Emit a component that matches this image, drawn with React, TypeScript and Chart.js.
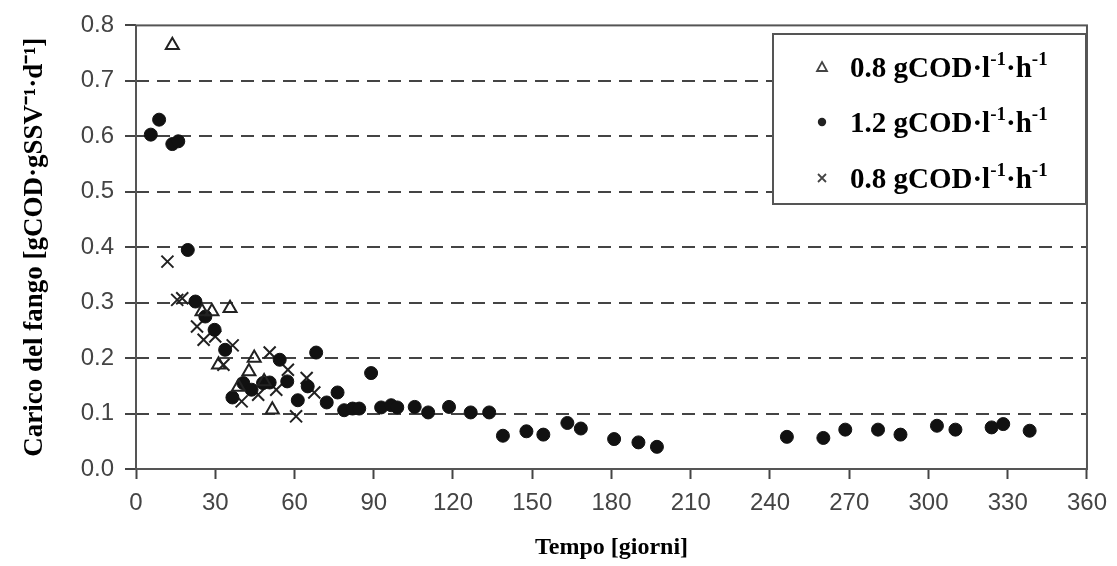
import React, { useEffect, useRef } from "react";
import { Chart, registerables } from "chart.js";

Chart.register(...registerables);

// ---- Data (days, sludge load) ----
const triDays = [13.75, 35.6, 25, 28.75, 31.25, 44.75, 42.75, 38.75, 48.5, 51.6];
const triValues = [0.764, 0.29, 0.284, 0.284, 0.188, 0.2, 0.176, 0.148, 0.158, 0.107];

const dotDays = [
  5.6, 8.75, 13.75, 16, 19.6, 22.5, 26.25, 29.75, 33.75, 36.5, 40.6, 43.75, 48.1, 50.6, 54.4,
  57.25, 61.25, 65, 68.2, 72.2, 76.3, 78.8, 82, 84.5, 89, 92.8, 96.6, 98.9, 105.5, 110.6, 118.5,
  126.7, 133.7, 138.9, 147.8, 154.2, 163.3, 168.4, 181, 190.2, 197.2, 246.4, 260.2, 268.5,
  280.9, 289.4, 303.2, 310.2, 323.9, 328.3, 338.3,
];
const dotValues = [
  0.603, 0.63, 0.586, 0.591, 0.395, 0.302, 0.275, 0.251, 0.215, 0.129, 0.155, 0.143, 0.155,
  0.156, 0.197, 0.158, 0.124, 0.149, 0.21, 0.12, 0.138, 0.106, 0.109, 0.109, 0.173, 0.111,
  0.115, 0.111, 0.112, 0.102, 0.112, 0.102, 0.102, 0.06, 0.068, 0.062, 0.083, 0.073, 0.054,
  0.048, 0.04, 0.058, 0.056, 0.071, 0.071, 0.062, 0.078, 0.071, 0.075, 0.081, 0.069,
];

const crossDays = [11.9, 15.6, 17.5, 23.1, 25.6, 30, 33.1, 36.6, 40, 46.25, 50.6, 53.1, 57.5, 60.6, 64.6, 67.5];
const crossValues = [0.374, 0.305, 0.308, 0.257, 0.233, 0.239, 0.188, 0.223, 0.122, 0.134, 0.21, 0.143, 0.179, 0.095, 0.164, 0.138];

const xTickValues = [0, 30, 60, 90, 120, 150, 180, 210, 240, 270, 300, 330, 360];
const yTickValues = [0, 0.1, 0.2, 0.3, 0.4, 0.5, 0.6, 0.7, 0.8];

const seriesNames = ["0.8 gCOD·l⁻¹·h⁻¹", "1.2 gCOD·l⁻¹·h⁻¹", "0.8 gCOD·l⁻¹·h⁻¹"];
const legendParts: [string, boolean][][] = [
  [["0.8 gCOD·l", false], ["-1", true], ["·h", false], ["-1", true]],
  [["1.2 gCOD·l", false], ["-1", true], ["·h", false], ["-1", true]],
  [["0.8 gCOD·l", false], ["-1", true], ["·h", false], ["-1", true]],
];
const yTitle = "Carico del fango [gCOD·gSSV⁻¹·d⁻¹]";
const xTitle = "Tempo [giorni]";

const toPoints = (xs: number[], ys: number[]) => xs.map((x, i) => ({ x, y: ys[i] }));

const SERIF = '"Liberation Serif", "Times New Roman", serif';
const SANS = '"Liberation Sans", Arial, sans-serif';

const framePlugin = {
  id: "frame",
  beforeDatasetsDraw(chart: any) {
    const { ctx, chartArea: a } = chart;
    ctx.save();
    ctx.strokeStyle = "#555";
    ctx.lineWidth = 2;
    ctx.strokeRect(a.left, a.top, a.right - a.left, a.bottom - a.top);
    ctx.restore();
  },
};

const legendPlugin = {
  id: "boxLegend",
  afterDraw(chart: any) {
    const { ctx } = chart;
    const bx = 773, by = 34, bw = 313, bh = 170;
    ctx.save();
    ctx.fillStyle = "#fff";
    ctx.fillRect(bx, by, bw, bh);
    ctx.strokeStyle = "#555";
    ctx.lineWidth = 2;
    ctx.strokeRect(bx, by, bw, bh);
    const rowY = [67, 122, 178];
    const mx = 822;
    legendParts.forEach((parts, i) => {
      const cy = rowY[i];
      ctx.lineWidth = 1.8;
      if (i === 0) {
        ctx.strokeStyle = "#444";
        ctx.beginPath();
        ctx.moveTo(mx, cy - 5);
        ctx.lineTo(mx + 5, cy + 4);
        ctx.lineTo(mx - 5, cy + 4);
        ctx.closePath();
        ctx.stroke();
      } else if (i === 1) {
        ctx.fillStyle = "#222";
        ctx.beginPath();
        ctx.arc(mx, cy, 4.2, 0, Math.PI * 2);
        ctx.fill();
      } else {
        ctx.strokeStyle = "#444";
        ctx.beginPath();
        ctx.moveTo(mx - 4, cy - 4);
        ctx.lineTo(mx + 4, cy + 4);
        ctx.moveTo(mx + 4, cy - 4);
        ctx.lineTo(mx - 4, cy + 4);
        ctx.stroke();
      }
      let tx = 850;
      ctx.fillStyle = "#000";
      ctx.textBaseline = "alphabetic";
      ctx.textAlign = "left";
      parts.forEach(([t, sup]) => {
        ctx.font = sup ? `bold 19px ${SERIF}` : `bold 29px ${SERIF}`;
        ctx.fillText(t, tx, sup ? cy - 2 : cy + 10);
        tx += ctx.measureText(t).width;
      });
    });
    ctx.restore();
  },
};

export default function App() {
  const ref = useRef<HTMLCanvasElement>(null);

  useEffect(() => {
    if (!ref.current) return;
    const chart = new Chart(ref.current, {
      type: "scatter",
      data: {
        datasets: [
          {
            label: seriesNames[0],
            data: toPoints(triDays, triValues),
            pointStyle: "triangle",
            pointRadius: 7.5,
            borderColor: "#222",
            backgroundColor: "rgba(255,255,255,0)",
            borderWidth: 2,
          },
          {
            label: seriesNames[1],
            data: toPoints(dotDays, dotValues),
            pointStyle: "circle",
            pointRadius: 6.5,
            borderColor: "#111",
            backgroundColor: "#111",
            borderWidth: 1,
          },
          {
            label: seriesNames[2],
            data: toPoints(crossDays, crossValues),
            pointStyle: "crossRot",
            pointRadius: 8.5,
            borderColor: "#222",
            backgroundColor: "#222",
            borderWidth: 2,
          },
        ],
      },
      options: {
        responsive: false,
        animation: false,
        devicePixelRatio: 1,
        layout: { padding: { left: 0, top: 25, right: 6, bottom: 0 } },
        plugins: {
          legend: { display: false },
          tooltip: { enabled: false },
        },
        scales: {
          x: {
            type: "linear",
            min: 0,
            max: 360,
            afterFit: (s: any) => {
              s.height = 97;
            },
            afterBuildTicks: (s: any) => {
              s.ticks = xTickValues.map((v) => ({ value: v }));
            },
            ticks: {
              font: { family: SANS, size: 24 },
              color: "#444",
              padding: 10,
              maxRotation: 0,
              autoSkip: false,
            },
            grid: {
              drawOnChartArea: false,
              drawTicks: true,
              tickLength: 10,
              tickColor: "#444",
              tickWidth: 2,
            },
            border: { display: false },
            title: {
              display: true,
              text: xTitle,
              font: { family: SERIF, size: 24, weight: "bold" },
              color: "#000",
              padding: { top: 4, bottom: 4 },
            },
          },
          y: {
            type: "linear",
            min: 0,
            max: 0.8,
            afterFit: (s: any) => {
              s.width = 136;
            },
            afterBuildTicks: (s: any) => {
              s.ticks = yTickValues.map((v) => ({ value: v }));
            },
            ticks: {
              font: { family: SANS, size: 24 },
              color: "#444",
              padding: 11,
              callback: (v: any) => Number(v).toFixed(1),
            },
            grid: {
              color: (c: any) =>
                c.tick && (c.tick.value === 0 || Math.abs(c.tick.value - 0.8) < 1e-9)
                  ? "rgba(0,0,0,0)"
                  : "#444",
              lineWidth: 2,
              drawTicks: true,
              tickLength: 11,
              tickColor: "#444",
              tickWidth: 2,
              tickBorderDash: [],
            },
            border: { display: false, dash: [13, 8] },
            title: {
              display: true,
              text: yTitle,
              font: { family: SERIF, size: 27, weight: "bold" },
              color: "#000",
              padding: { top: 19, bottom: 0 },
            },
          },
        },
      },
      plugins: [framePlugin, legendPlugin],
    } as any);
    return () => chart.destroy();
  }, []);

  return (
    <div style={{ position: "absolute", left: 0, top: 0, width: 1117, height: 566, background: "#fff" }}>
      <canvas ref={ref} width={1117} height={566} style={{ display: "block" }} />
    </div>
  );
}
